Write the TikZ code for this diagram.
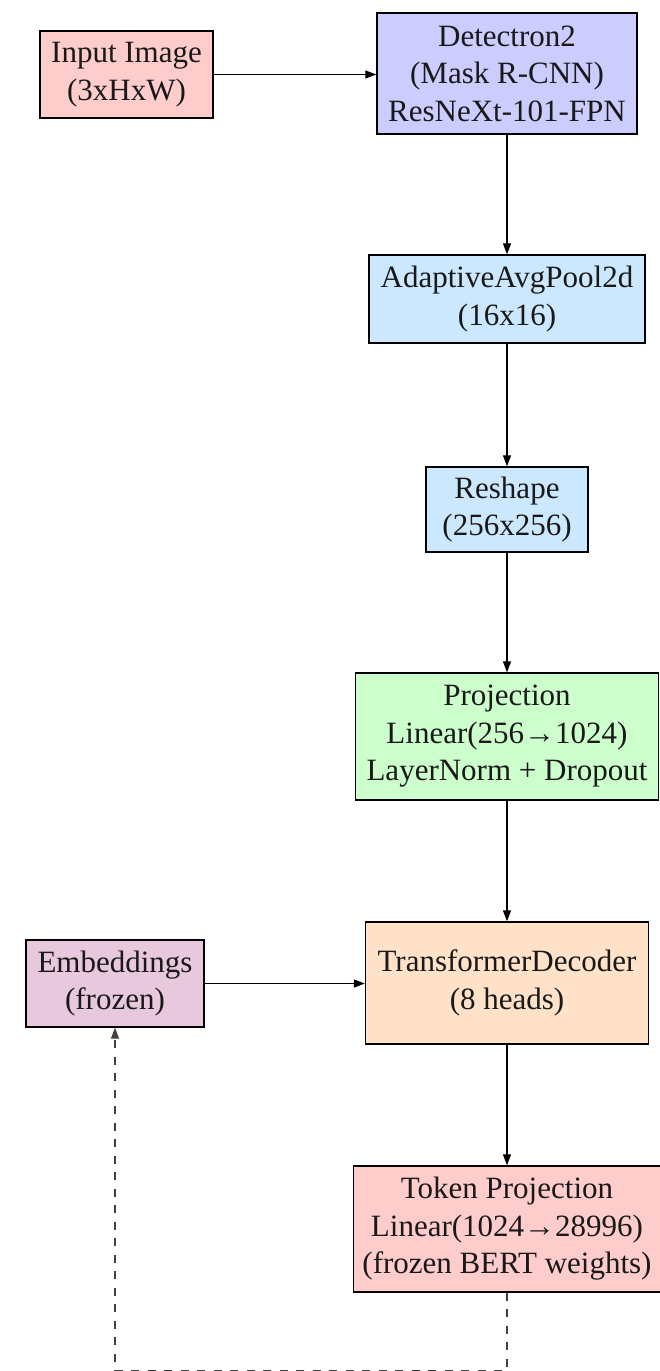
\documentclass[tikz,border=0pt]{standalone}
\usepackage{fontspec}
\setmainfont{Liberation Serif}
\usetikzlibrary{arrows.meta}
\definecolor{cInput}{HTML}{FFCCCC}
\definecolor{cDet}{HTML}{CCCCFF}
\definecolor{cBlue}{HTML}{CCE8FF}
\definecolor{cGreen}{HTML}{CCFFCC}
\definecolor{cTrans}{HTML}{FFE2C8}
\definecolor{cEmb}{HTML}{E8C8DC}
\definecolor{cTok}{HTML}{FFCCCC}
\begin{document}
\begin{tikzpicture}[x=1pt,y=-1pt,
  box/.style={draw=black, line width=1.4pt, inner sep=0pt, align=center,
    font=\fontsize{31}{37.5}\selectfont, text=black!90},
  sz/.style 2 args={minimum width=#1pt, minimum height=#2pt},
  arr/.style={line width=1.3pt, -{Triangle[length=11pt,width=8pt]}},
  dasharr/.style={line width=1.1pt, draw=black!75, dash pattern=on 8pt off 8.5pt,
    -{Triangle[length=11pt,width=8pt]}}]
\useasboundingbox (0,0) rectangle (660,1371);
\node[box, fill=cInput, sz={173}{87}] (inp) at (126.5,74.5) {Input Image\\(3xHxW)};
\node[box, fill=cDet, sz={260}{121}] (det) at (507,73.5) {Detectron2\\(Mask R-CNN)\\ResNeXt-101-FPN};
\node[box, fill=cBlue, sz={276}{88}] (pool) at (507,299) {AdaptiveAvgPool2d\\(16x16)};
\node[box, fill=cBlue, sz={162}{85}] (resh) at (507,509.5) {Reshape\\(256x256)};
\node[box, fill=cGreen, sz={303}{127}] (proj) at (507,736.5) {Projection\\Linear(256→1024)\\LayerNorm + Dropout};
\node[box, fill=cEmb, sz={178}{87}] (emb) at (115,983.5) {Embeddings\\(frozen)};
\node[box, fill=cTrans, sz={283}{122}] (trans) at (507,983) {TransformerDecoder\\(8 heads)};
\node[box, fill=cTok, sz={307}{126}] (tok) at (507,1229) {Token Projection\\Linear(1024→28996)\\(frozen BERT weights)};
\coordinate (c1) at (507,1370.5);
\coordinate (c2) at (115,1370.5);
\draw[arr] (inp.east) -- (det.west |- inp.east);
\draw[arr] (det) -- (pool);
\draw[arr] (pool) -- (resh);
\draw[arr] (resh) -- (proj);
\draw[arr] (proj) -- (trans);
\draw[arr] (trans) -- (tok);
\draw[arr] (emb.east) -- (trans.west |- emb.east);
\draw[dasharr] (tok.south) -- (c1) -- (c2) -- (emb.south);
\end{tikzpicture}
\end{document}
